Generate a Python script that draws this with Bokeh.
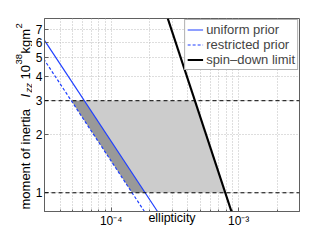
import math
from bokeh.plotting import figure
from bokeh.layouts import row
from bokeh.models import (FixedTicker, CustomJSTickFormatter, Label,
                          Legend, LegendItem, Span)
from bokeh.embed import file_html
from bokeh.resources import INLINE

# ---- data ----
x_range = (3e-5, 3e-3)
y_range = (0.8, 8.0)
x_major = [1e-4, 1e-3]
x_minor = [3e-5, 4e-5, 5e-5, 6e-5, 7e-5, 8e-5, 9e-5,
           2e-4, 3e-4, 4e-4, 5e-4, 6e-4, 7e-4, 8e-4, 9e-4, 2e-3, 3e-3]
y_ticks = [1, 2, 3, 4, 5, 6, 7]

line_I = [0.8, 8.0]                      # moment of inertia at the line ends
uniform_eps = [2.31e-4, 2.31e-5]         # uniform prior upper limit
restricted_eps = [1.825e-4, 1.825e-5]    # restricted prior upper limit
spindown_eps = [8.78e-4, 2.78e-4]        # spin-down limit

band_I = [1.0, 3.0]                      # plausible moment of inertia range
uniform_band = [1.85e-4, 6.17e-5]
restricted_band = [1.46e-4, 4.87e-5]
spindown_band = [7.85e-4, 4.53e-4]

series_labels = ["uniform prior", "restricted prior", "spin\u2013down limit"]
x_label = "ellipticity"

FONT = "Liberation Sans"
FRAME_COL = "#606060"
W, H = 316, 228
LAB_W = 32

p = figure(width=W - LAB_W, height=H, x_axis_type="log", y_axis_type="log",
           x_range=x_range, y_range=y_range, output_backend="svg",
           toolbar_location=None, title=None, min_border_left=11,
           min_border_right=17, min_border_top=18, min_border_bottom=17)
p.outline_line_color = FRAME_COL
p.background_fill_color = "white"

xt = FixedTicker(ticks=x_major, minor_ticks=x_minor)
yt = FixedTicker(ticks=y_ticks, minor_ticks=[])

xfmt = CustomJSTickFormatter(code="""
const sup = {"-":"\u207b","0":"\u2070","1":"\u00b9","2":"\u00b2","3":"\u00b3","4":"\u2074",
             "5":"\u2075","6":"\u2076","7":"\u2077","8":"\u2078","9":"\u2079"};
const e = Math.round(Math.log10(tick));
return "10" + String(e).split("").map(c => sup[c]).join("");
""")
yfmt = CustomJSTickFormatter(code="return tick.toFixed(0);")

p.xaxis.ticker = xt
p.xaxis.formatter = xfmt
p.yaxis.ticker = yt
p.yaxis.formatter = yfmt
for ax in p.xaxis + p.yaxis:
    ax.axis_line_color = FRAME_COL
    ax.major_tick_line_color = FRAME_COL
    ax.minor_tick_line_color = FRAME_COL
    ax.major_tick_in = 4
    ax.major_tick_out = 0
    ax.minor_tick_in = 2
    ax.minor_tick_out = 0
    ax.major_label_text_font = FONT
    ax.major_label_text_font_size = "12px"
    ax.major_label_text_color = "black"
    ax.major_label_standoff = 2

# x-axis title shares the row of the tick labels (no room below in the window)
p.xaxis.axis_label = x_label
p.xaxis.axis_label_text_font = FONT
p.xaxis.axis_label_text_font_size = "12.5px"
p.xaxis.axis_label_text_font_style = "normal"
p.xaxis.axis_label_text_color = "black"
p.xaxis.axis_label_standoff = -20

p.xgrid.ticker = xt
p.ygrid.ticker = yt
for g in (p.xgrid, p.ygrid):
    g.grid_line_color = "#bdbdbd"
    g.grid_line_dash = "1 2"
    g.grid_line_width = 1
p.xgrid.minor_grid_line_color = "#bdbdbd"
p.xgrid.minor_grid_line_dash = "1 2"

# shaded regions
p.patch(uniform_band + spindown_band[::-1], band_I + band_I[::-1],
        fill_color="#cccccc", line_color=None)
p.patch(restricted_band + uniform_band[::-1], band_I + band_I[::-1],
        fill_color="#999999", line_color=None)

for lev in band_I:
    p.add_layout(Span(location=lev, dimension="width", line_color="black",
                      line_dash="4 3", line_width=1))

r_u = p.line(uniform_eps, line_I, line_color="#1f3fff", line_width=1.2)
r_r = p.line(restricted_eps, line_I, line_color="#1f3fff", line_width=1.2,
             line_dash="3 2")
r_s = p.line(spindown_eps, line_I, line_color="black", line_width=2.2)

legend = Legend(items=[LegendItem(label=series_labels[0], renderers=[r_u]),
                       LegendItem(label=series_labels[1], renderers=[r_r]),
                       LegendItem(label=series_labels[2], renderers=[r_s])],
                location="top_right")
legend.margin = 1
legend.padding = 2
legend.spacing = 0
legend.label_standoff = 3
legend.glyph_width = 16
legend.glyph_height = 15
legend.label_height = 15
legend.label_text_font = FONT
legend.label_text_font_size = "13px"
legend.border_line_color = FRAME_COL
legend.border_line_width = 1
legend.background_fill_alpha = 1
p.add_layout(legend, "center")

# ---- y-axis label (with sub/superscripts) in a narrow side figure ----
q = figure(width=LAB_W, height=H, x_range=(0, 1), y_range=(0, 1),
           output_backend="svg", toolbar_location=None, title=None,
           x_axis_location=None, y_axis_location=None, min_border=0,
           min_border_left=0, min_border_right=0, min_border_top=0,
           min_border_bottom=0)
q.outline_line_color = None
q.grid.visible = False
q.background_fill_color = "white"
q.border_fill_color = "white"

lab = dict(x_units="canvas", y_units="canvas", text_font=FONT,
           text_color="black", text_baseline="alphabetic", text_align="left",
           angle=math.pi / 2)
bx = 25
ylab_parts = [
    dict(x=bx,       y=209, text="moment of inertia", text_font_size="13px"),
    dict(x=bx,       y=97,  text="I", text_font_size="13px", text_font_style="italic"),
    dict(x=bx + 2.5, y=92,  text="zz", text_font_size="9.5px", text_font_style="italic"),
    dict(x=bx,       y=79,  text="10", text_font_size="13px"),
    dict(x=bx - 7,   y=64,  text="38", text_font_size="9.5px"),
    dict(x=bx,       y=53,  text="kgm", text_font_size="13px"),
    dict(x=bx - 7,   y=28,  text="2", text_font_size="9.5px"),
]
for part in ylab_parts:
    q.add_layout(Label(**part, **lab))

layout = row(q, p)
open("out.html", "w").write(file_html(layout, INLINE))
